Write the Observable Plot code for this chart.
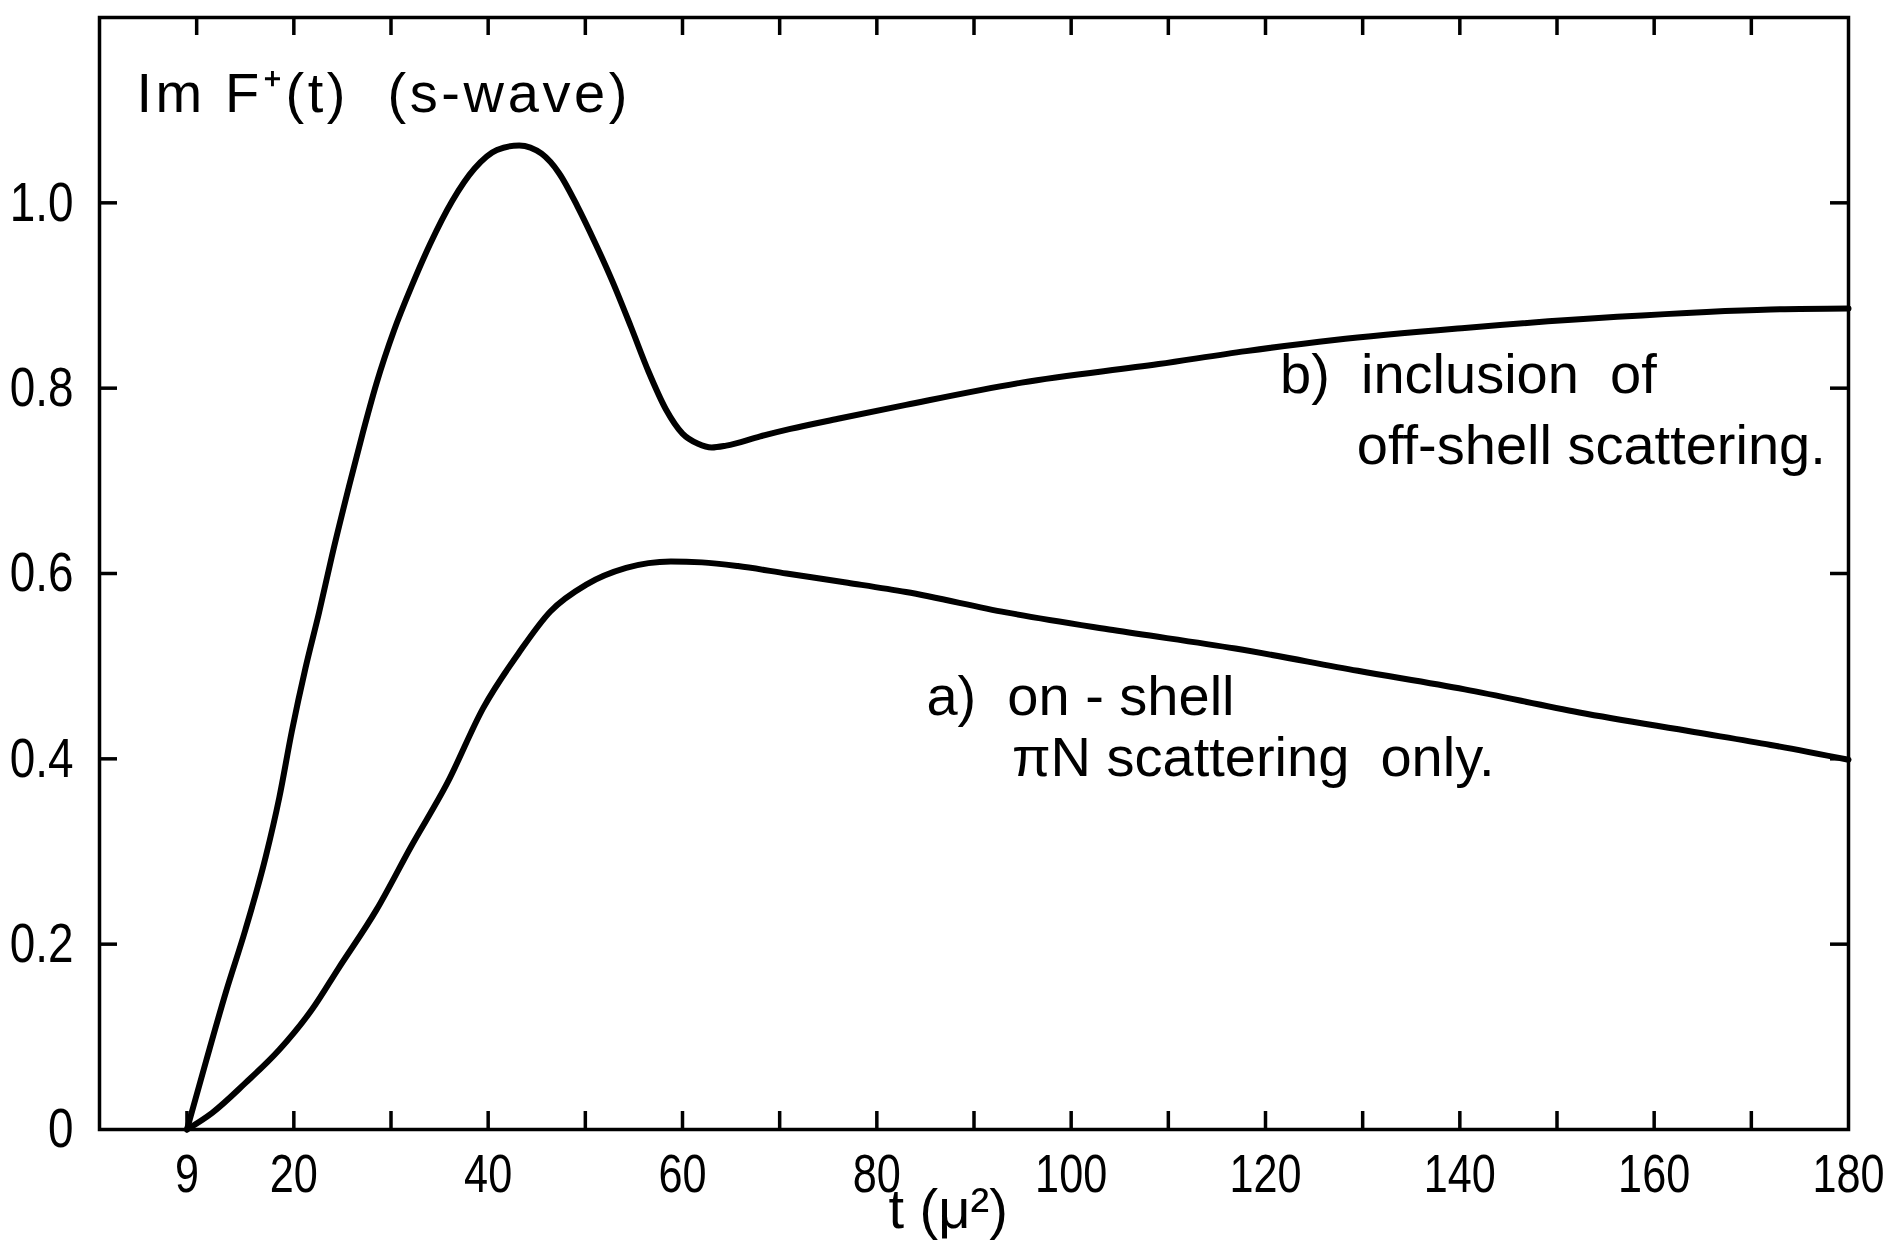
<!DOCTYPE html>
<html>
<head>
<meta charset="utf-8">
<script src="https://cdn.jsdelivr.net/npm/d3@7"></script>
<script src="https://cdn.jsdelivr.net/npm/@observablehq/plot@0.6"></script>
<style>
  html, body { margin: 0; padding: 0; background: #fff; }
  svg text { white-space: pre; }
</style>
</head>
<body>
<div id="chart"></div>
<script>
// ---- data ----
// a) on-shell πN scattering only
const tA = [9, 11.6, 15, 18.5, 21.9, 24.6, 28.5, 32.1, 35.8, 39.5, 43.2, 46.4, 50.1, 54.2, 58.8, 62, 65.7, 70.7, 77, 83, 93.3, 104.3, 116.9, 129.5, 140.5, 152.3, 164.1, 172, 180];
const vA = [0, 0.018, 0.050, 0.086, 0.130, 0.174, 0.237, 0.306, 0.374, 0.455, 0.515, 0.559, 0.588, 0.606, 0.613, 0.612, 0.608, 0.600, 0.590, 0.580, 0.558, 0.539, 0.519, 0.495, 0.475, 0.450, 0.429, 0.415, 0.399];
// b) inclusion of off-shell scattering
const tB = [9, 11, 13, 15, 17.1, 18.5, 19.8, 21.2, 22.6, 23.9, 25.7, 27.1, 28.5, 30.3, 32.2, 34.0, 36.3, 38.6, 40.9, 43.2, 45.5, 47.3, 49.2, 51.0, 52.8, 54.7, 56.5, 58.3, 60.0, 61.6, 63.0, 64.5, 68.0, 71.1, 76, 83, 94.9, 109, 118, 127.1, 140.5, 156.2, 172, 180];
const vB = [0, 0.075, 0.148, 0.215, 0.294, 0.358, 0.430, 0.498, 0.558, 0.618, 0.695, 0.752, 0.805, 0.862, 0.912, 0.955, 1.002, 1.037, 1.057, 1.062, 1.053, 1.032, 0.996, 0.957, 0.915, 0.866, 0.818, 0.777, 0.751, 0.740, 0.736, 0.738, 0.748, 0.756, 0.767, 0.782, 0.806, 0.826, 0.840, 0.852, 0.865, 0.877, 0.885, 0.886];

// axis ticks and labels
const xTickLabelValues = [9, 20, 40, 60, 80, 100, 120, 140, 160, 180];
const xBottomTickValues = [9, 20, 30, 40, 50, 60, 70, 80, 90, 100, 110, 120, 130, 140, 150, 160, 170];
const xTopTickValues = [10, 20, 30, 40, 50, 60, 70, 80, 90, 100, 110, 120, 130, 140, 150, 160, 170];
const yTickValues = [0, 0.2, 0.4, 0.6, 0.8, 1.0];
const yTickLabels = ["0", "0.2", "0.4", "0.6", "0.8", "1.0"];
const yMarkValues = [0.2, 0.4, 0.6, 0.8, 1.0];

const yTitle = "Im F\u207A(t)  (s-wave)";
const xTitle = "t (\u03BC\u00B2)";
const noteB = ["b)  inclusion  of", "off-shell scattering."];
const noteA = ["a)  on - shell", "\u03C0N scattering  only."];

// ---- layout ----
const W = 1899, H = 1242;
const mL = 99, mR = 51, mT = 17, mB = 113;
const innerW = W - mL - mR, innerH = H - mT - mB;
const tick = 18;
const font = "'Liberation Sans', Arial, sans-serif";

const dataA = tA.map((t, i) => ({t, v: vA[i]}));
const dataB = tB.map((t, i) => ({t, v: vB[i]}));

const chart = Plot.plot({
  width: W, height: H,
  marginLeft: mL, marginRight: mR, marginTop: mT, marginBottom: mB,
  x: {domain: [0, 180]},
  y: {domain: [0, 1.2]},
  style: {fontFamily: font, background: "#fff", color: "#000"},
  marks: [
    Plot.ruleX(xBottomTickValues, {stroke: "#000", strokeWidth: 3.5, insetTop: innerH - tick}),
    Plot.ruleX(xTopTickValues, {stroke: "#000", strokeWidth: 3.5, insetBottom: innerH - tick}),
    Plot.ruleY(yMarkValues, {stroke: "#000", strokeWidth: 3.5, insetRight: innerW - tick}),
    Plot.ruleY(yMarkValues, {stroke: "#000", strokeWidth: 3.5, insetLeft: innerW - tick}),
    Plot.frame({stroke: "#000", strokeWidth: 3.5}),
    Plot.axisX({ticks: xTickLabelValues, tickSize: 0, tickPadding: 24, fontSize: 54, label: null, tickFormat: d => String(d)}),
    Plot.axisY({ticks: yTickValues, tickSize: 0, tickPadding: 26, fontSize: 56, label: null, tickFormat: d => yTickLabels[yTickValues.indexOf(d)]}),
    Plot.line(dataA, {x: "t", y: "v", stroke: "#000", strokeWidth: 6, curve: "monotone-x"}),
    Plot.line(dataB, {x: "t", y: "v", stroke: "#000", strokeWidth: 6, curve: "monotone-x"}),
    Plot.text([yTitle], {x: 3.8, y: 1.098, text: d => d, textAnchor: "start", lineAnchor: "bottom", fontSize: 56}),
    Plot.text([noteB[0]], {x: 121.5, y: 0.795, text: d => d, textAnchor: "start", lineAnchor: "bottom", fontSize: 56}),
    Plot.text([noteB[1]], {x: 129.4, y: 0.718, text: d => d, textAnchor: "start", lineAnchor: "bottom", fontSize: 56}),
    Plot.text([noteA[0]], {x: 85.1, y: 0.447, text: d => d, textAnchor: "start", lineAnchor: "bottom", fontSize: 56}),
    Plot.text([noteA[1]], {x: 93.9, y: 0.381, text: d => d, textAnchor: "start", lineAnchor: "bottom", fontSize: 56}),
    Plot.text([xTitle], {x: 81.2, y: -0.106, text: d => d, textAnchor: "start", lineAnchor: "bottom", fontSize: 56})
  ]
});
document.getElementById("chart").appendChild(chart);

// narrow the stencil-like tick digits horizontally
function squeeze(selector, factor) {
  chart.querySelectorAll(selector).forEach(el => {
    const len = el.getComputedTextLength();
    el.setAttribute("textLength", (len * factor).toFixed(1));
    el.setAttribute("lengthAdjust", "spacingAndGlyphs");
  });
}
squeeze('g[aria-label="x-axis tick label"] text', 0.8);
squeeze('g[aria-label="y-axis tick label"] text', 0.82);
// widen the y title spacing to match the original lettering
chart.querySelectorAll('g[aria-label="text"] text').forEach(el => {
  if (el.textContent === yTitle) {
    el.setAttribute("textLength", "491");
    el.setAttribute("lengthAdjust", "spacing");
  }
});
</script>
</body>
</html>
